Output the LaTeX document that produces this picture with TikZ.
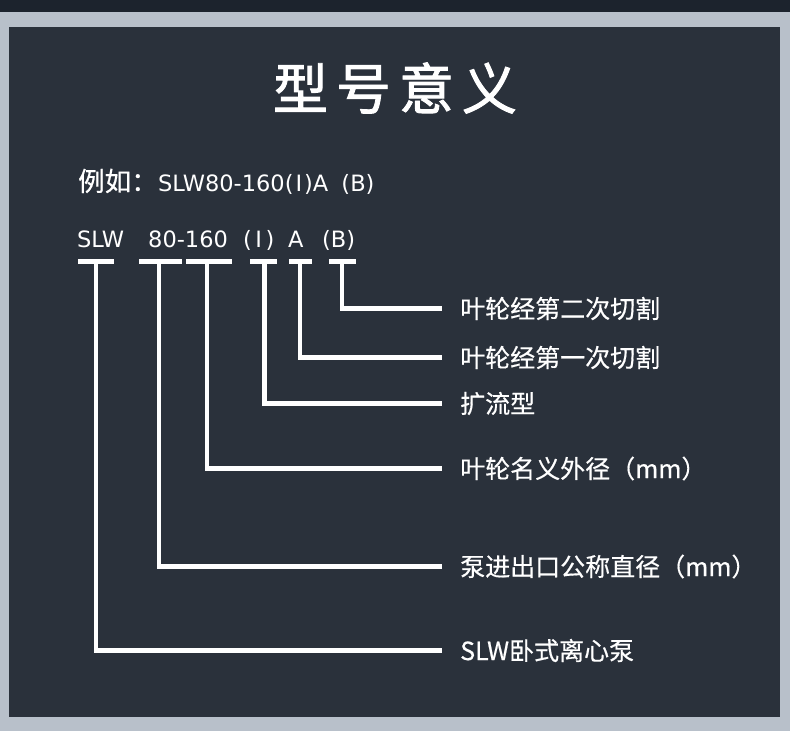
\documentclass[tikz,border=0pt]{standalone}
\usepackage{fontspec}
\setmainfont{Noto Sans CJK SC}[FakeBold=0.5]
\newfontfamily\latinfont{DejaVu Sans}
\newfontfamily\titlefont{Noto Sans CJK SC}[FakeBold=1.6]
\definecolor{strip}{HTML}{1C232D}
\definecolor{frame}{HTML}{B8C0CA}
\definecolor{panel}{HTML}{2A313B}
\tikzset{
  txt/.style={text=white, inner sep=0pt, anchor=base west, font=\latinfont\fontsize{22.5pt}{24pt}\selectfont},
  cjktxt/.style={text=white, inner sep=0pt, anchor=base west, font=\fontsize{26.5pt}{28pt}\selectfont},
  lab/.style={text=white, inner sep=0pt, anchor=west, font=\fontsize{25pt}{27pt}\selectfont},
  ttl/.style={text=white, inner sep=0pt, font=\titlefont\fontsize{55pt}{60pt}\selectfont},
  wire/.style={draw=white, line width=4.6pt},
}
\begin{document}
\begin{tikzpicture}[x=1pt,y=-1pt]
\useasboundingbox (0,0) rectangle (790,731);
\fill[frame] (0,0) rectangle (790,731);
\fill[strip] (0,0) rectangle (790,12);
\fill[panel] (9,27) rectangle (780,717);
% title
\node[ttl] (title) at (395,88) {型\hspace{8pt}号\hspace{8pt}意\hspace{8pt}义};
% example
\node[cjktxt] (exa) at (78,191) {例如：};
\node[txt] (exb) at (exa.base east) {SLW80-160(\hspace{2pt}I\hspace{2pt})A\hspace{6pt} (B)};
% code parts
\node[txt] (c1) at (77,247) {SLW};
\node[txt] (c2) at (148,247) {80-160};
\node[txt] (c3) at (243,247) {(\hspace{3.5pt}I\hspace{3.5pt})};
\node[txt] (c4) at (288,247) {A};
\node[txt] (c5) at (322,247) {(B)};
% bars
\coordinate (b1) at (96,261.5);
\coordinate (b2) at (159,261.5);
\coordinate (b3) at (207,261.5);
\coordinate (b4) at (264.5,261.5);
\coordinate (b5) at (300,261.5);
\coordinate (b6) at (342,261.5);
\draw[wire] (78,261.5) -- (114,261.5);
\draw[wire] (139,261.5) -- (182,261.5);
\draw[wire] (186,261.5) -- (232,261.5);
\draw[wire] (250,261.5) -- (277,261.5);
\draw[wire] (289,261.5) -- (312,261.5);
\draw[wire] (329,261.5) -- (356,261.5);
% labels
\node[lab] (l6) at (460,308.5) {叶轮经第二次切割};
\node[lab] (l5) at (460,357.5) {叶轮经第一次切割};
\node[lab] (l4) at (460,403.5) {扩流型};
\node[lab] (l3) at (460,468.5) {叶轮名义外径（mm）};
\node[lab] (l2) at (460,566.5) {泵进出口公称直径（mm）};
\node[lab] (l1) at (460,650.5) {SLW卧式离心泵};
% connectors
\foreach \i in {1,...,6}{
  \draw[wire] (b\i) |- ([xshift=-18pt]l\i.west);
}
\end{tikzpicture}
\end{document}
